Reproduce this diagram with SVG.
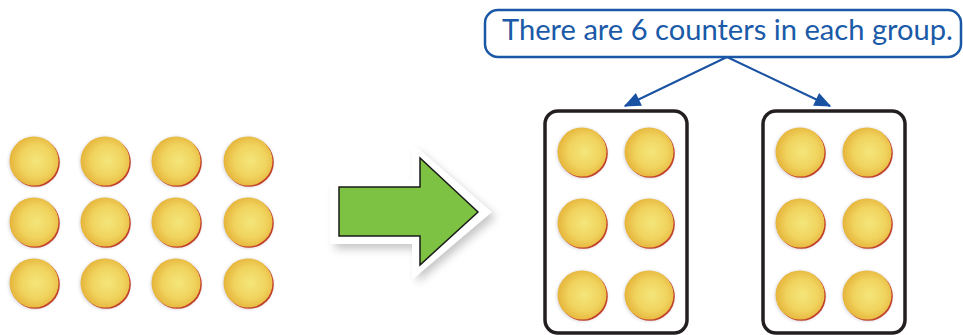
<svg xmlns="http://www.w3.org/2000/svg" width="963" height="335" viewBox="0 0 963 335">
<defs>
<radialGradient id="cg" cx="0.55" cy="0.5" r="0.55">
<stop offset="0" stop-color="#f4e67a"/>
<stop offset="0.6" stop-color="#f0d35e"/>
<stop offset="1" stop-color="#e6b43a"/>
</radialGradient>
<filter id="blur" x="-30%" y="-30%" width="160%" height="160%"><feGaussianBlur stdDeviation="1.5"/></filter>
<filter id="shadow" x="-20%" y="-20%" width="150%" height="160%"><feGaussianBlur stdDeviation="4"/></filter>
<symbol id="counter" overflow="visible">
<circle cx="0" cy="1" r="25.5" fill="#b8b8c8" opacity="0.5" filter="url(#blur)"/>
<circle cx="1.3" cy="1.3" r="24.5" fill="#c2402a"/>
<circle cx="0" cy="0" r="24.5" fill="url(#cg)"/>
</symbol>
<marker id="ah2" viewBox="0 0 12 10" refX="11" refY="5" markerWidth="18" markerHeight="14" orient="auto" markerUnits="userSpaceOnUse">
<path d="M0,0 L12,5 L0,10 Z" fill="#1a52a3"/>
</marker>
</defs>
<style>
.box{fill:none;stroke:#231f20;stroke-width:3.5}
.callout{fill:#fff;stroke:#1a57a6;stroke-width:2.5}
.label{font-family:Lato,"Open Sans",sans-serif;font-size:28px;fill:#1a5aa8}
.conn{stroke:#1a52a3;stroke-width:2;fill:none}
</style>
<rect width="963" height="335" fill="#fff"/>

<g id="counters-left">
<use href="#counter" x="34" y="161"/><use href="#counter" x="105" y="161"/><use href="#counter" x="176" y="161"/><use href="#counter" x="248" y="161"/>
<use href="#counter" x="34" y="222"/><use href="#counter" x="105" y="222"/><use href="#counter" x="176" y="222"/><use href="#counter" x="248" y="222"/>
<use href="#counter" x="34" y="283"/><use href="#counter" x="105" y="283"/><use href="#counter" x="176" y="283"/><use href="#counter" x="248" y="283"/>
</g>

<g id="big-arrow">
<path d="M332,182 L414,182 L414,145 L493,212 L414,278 L414,244 L332,244 Z" fill="#9a9a9a" opacity="0.55" filter="url(#shadow)" transform="translate(3,5)"/>
<path d="M330,179 L412,179 L412,143 L492,212 L412,280 L412,244 L330,244 Z" fill="#fff"/>
<path d="M339,187 L420,187 L420,158 L478,212 L420,265 L420,236 L339,236 Z" fill="#7dc242" stroke="#1a1a1a" stroke-width="1.5" stroke-linejoin="miter"/>
</g>

<g id="group1">
<rect class="box" x="545" y="111" width="142" height="222" rx="13"/>
<use href="#counter" x="582" y="152"/><use href="#counter" x="649" y="152"/>
<use href="#counter" x="582" y="223"/><use href="#counter" x="649" y="223"/>
<use href="#counter" x="582" y="295"/><use href="#counter" x="649" y="295"/>
</g>

<g id="group2">
<rect class="box" x="763" y="111" width="142" height="222" rx="13"/>
<use href="#counter" x="800" y="152"/><use href="#counter" x="867" y="152"/>
<use href="#counter" x="800" y="223"/><use href="#counter" x="867" y="223"/>
<use href="#counter" x="800" y="295"/><use href="#counter" x="867" y="295"/>
</g>

<g id="connectors">
<line class="conn" x1="727" y1="57" x2="625" y2="106" marker-end="url(#ah2)"/>
<line class="conn" x1="727" y1="57" x2="830" y2="106" marker-end="url(#ah2)"/>
</g>

<g id="callout">
<rect class="callout" x="485" y="10" width="476" height="47" rx="13"/>
<text class="label" x="502" y="40" textLength="451" lengthAdjust="spacingAndGlyphs">There are 6 counters in each group.</text>
</g>
</svg>
